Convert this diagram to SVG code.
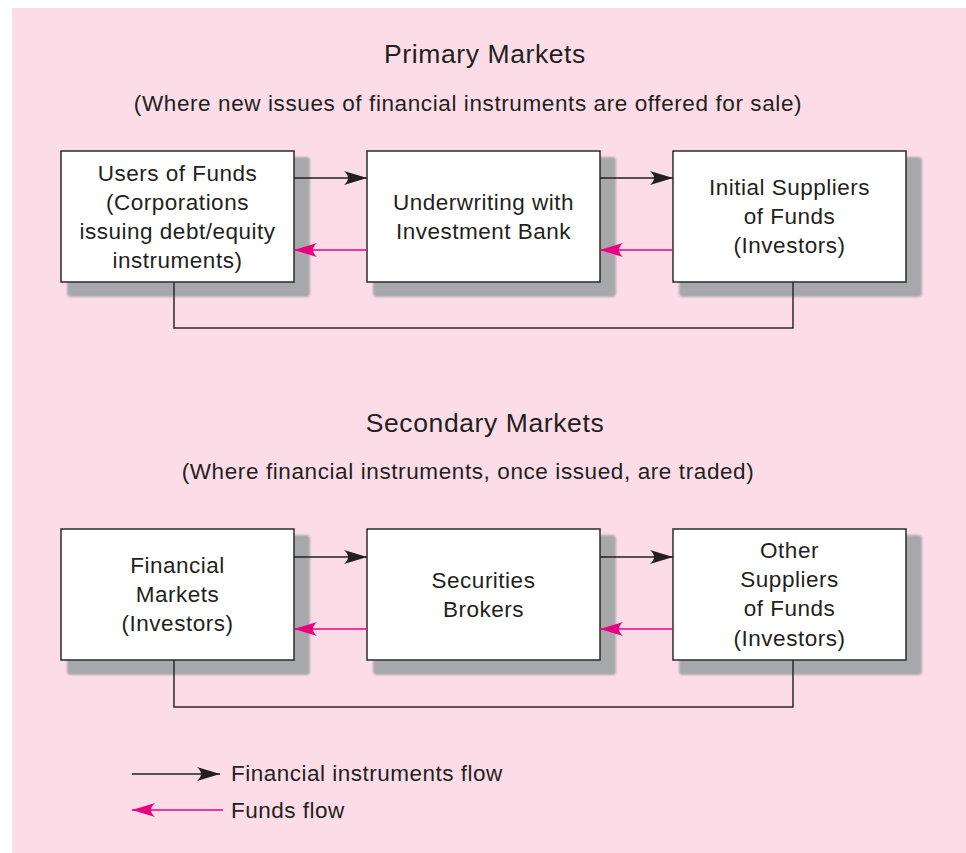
<svg xmlns="http://www.w3.org/2000/svg" width="966" height="853" viewBox="0 0 966 853">
  <style>
    text { font-family: "Liberation Sans", Arial, Helvetica, sans-serif; fill: #231f20; text-anchor: middle; }
    .title { font-size: 26.5px; letter-spacing: 0.6px; }
    .sub { font-size: 22.5px; letter-spacing: 0.6px; }
    .lbl { font-size: 22.5px; letter-spacing: 0.5px; }
    .leg { font-size: 22.5px; letter-spacing: 0.5px; text-anchor: start; }
    .box { fill: #ffffff; stroke: #2b2b2b; stroke-width: 1.5; }
    .shadow { fill: #a7a8ab; }
    .inst { stroke: #231f20; stroke-width: 1.3; fill: none; }
    .fund { stroke: #e8007f; stroke-width: 1.3; fill: none; }
    .link { stroke: #2b2b2b; stroke-width: 1.5; fill: none; }
  </style>
  <defs>
    <filter id="soft" x="-5%" y="-5%" width="110%" height="110%">
      <feGaussianBlur stdDeviation="1"/>
    </filter>
    <marker id="headInst" markerUnits="userSpaceOnUse" markerWidth="26" markerHeight="16" refX="23" refY="7" orient="auto">
      <path d="M23,7 L0,0 Q8,7 0,14 Z" fill="#231f20"/>
    </marker>
    <marker id="headFund" markerUnits="userSpaceOnUse" markerWidth="26" markerHeight="16" refX="23" refY="7" orient="auto">
      <path d="M23,7 L0,0 Q8,7 0,14 Z" fill="#e8007f"/>
    </marker>
  </defs>

  <!-- panel background -->
  <rect x="12" y="8" width="954" height="845" fill="#fcdce7"/>

  <!-- headings -->
  <text class="title" x="485" y="63">Primary Markets</text>
  <text class="sub" x="468" y="111">(Where new issues of financial instruments are offered for sale)</text>
  <text class="title" x="485" y="432">Secondary Markets</text>
  <text class="sub" x="468" y="479">(Where financial instruments, once issued, are traded)</text>

  <!-- primary market nodes -->
  <g id="users-of-funds">
    <rect class="shadow" x="67" y="157" width="243" height="140" rx="4" filter="url(#soft)"/>
    <rect class="box" x="61" y="151" width="233" height="131"/>
    <text class="lbl" x="177.5" y="181">Users of Funds</text>
    <text class="lbl" x="177.5" y="210">(Corporations</text>
    <text class="lbl" x="177.5" y="239">issuing debt/equity</text>
    <text class="lbl" x="177.5" y="268">instruments)</text>
  </g>
  <g id="underwriting">
    <rect class="shadow" x="373" y="157" width="243" height="140" rx="4" filter="url(#soft)"/>
    <rect class="box" x="367" y="151" width="233" height="131"/>
    <text class="lbl" x="483.5" y="210">Underwriting with</text>
    <text class="lbl" x="483.5" y="239">Investment Bank</text>
  </g>
  <g id="initial-suppliers">
    <rect class="shadow" x="679" y="157" width="243" height="140" rx="4" filter="url(#soft)"/>
    <rect class="box" x="673" y="151" width="233" height="131"/>
    <text class="lbl" x="789.5" y="195">Initial Suppliers</text>
    <text class="lbl" x="789.5" y="224">of Funds</text>
    <text class="lbl" x="789.5" y="253">(Investors)</text>
  </g>

  <!-- secondary market nodes -->
  <g id="financial-markets">
    <rect class="shadow" x="67" y="535" width="243" height="140" rx="4" filter="url(#soft)"/>
    <rect class="box" x="61" y="529" width="233" height="131"/>
    <text class="lbl" x="177.5" y="573">Financial</text>
    <text class="lbl" x="177.5" y="602">Markets</text>
    <text class="lbl" x="177.5" y="631">(Investors)</text>
  </g>
  <g id="securities-brokers">
    <rect class="shadow" x="373" y="535" width="243" height="140" rx="4" filter="url(#soft)"/>
    <rect class="box" x="367" y="529" width="233" height="131"/>
    <text class="lbl" x="483.5" y="588">Securities</text>
    <text class="lbl" x="483.5" y="617">Brokers</text>
  </g>
  <g id="other-suppliers">
    <rect class="shadow" x="679" y="535" width="243" height="140" rx="4" filter="url(#soft)"/>
    <rect class="box" x="673" y="529" width="233" height="131"/>
    <text class="lbl" x="789.5" y="558">Other</text>
    <text class="lbl" x="789.5" y="587">Suppliers</text>
    <text class="lbl" x="789.5" y="616">of Funds</text>
    <text class="lbl" x="789.5" y="646">(Investors)</text>
  </g>

  <!-- connectors -->
  <g id="connectors">
    <line class="inst" x1="294" y1="178" x2="367" y2="178" marker-end="url(#headInst)"/>
    <line class="inst" x1="600" y1="178" x2="673" y2="178" marker-end="url(#headInst)"/>
    <line class="fund" x1="367" y1="250" x2="294" y2="250" marker-end="url(#headFund)"/>
    <line class="fund" x1="673" y1="250" x2="600" y2="250" marker-end="url(#headFund)"/>
    <polyline class="link" points="174,282 174,328 793,328 793,282"/>

    <line class="inst" x1="294" y1="557" x2="367" y2="557" marker-end="url(#headInst)"/>
    <line class="inst" x1="600" y1="557" x2="673" y2="557" marker-end="url(#headInst)"/>
    <line class="fund" x1="367" y1="629" x2="294" y2="629" marker-end="url(#headFund)"/>
    <line class="fund" x1="673" y1="629" x2="600" y2="629" marker-end="url(#headFund)"/>
    <polyline class="link" points="174,660 174,707 793,707 793,660"/>
  </g>

  <!-- legend -->
  <g id="legend">
    <line class="inst" x1="132" y1="774" x2="220" y2="774" marker-end="url(#headInst)"/>
    <text class="leg" x="231" y="781">Financial instruments flow</text>
    <line class="fund" x1="223" y1="810" x2="132" y2="810" marker-end="url(#headFund)"/>
    <text class="leg" x="231" y="818">Funds flow</text>
  </g>
</svg>
